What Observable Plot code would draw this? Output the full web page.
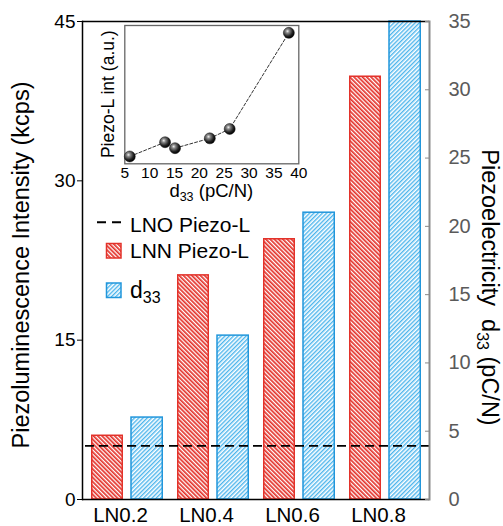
<!DOCTYPE html>
<html><head><meta charset="utf-8">
<script src="https://cdn.jsdelivr.net/npm/d3@7"></script>
<script src="https://cdn.jsdelivr.net/npm/@observablehq/plot@0.6"></script>
<style>
body{margin:0;background:#fff;font-family:"Liberation Sans",Arial,sans-serif;}
#wrap{position:relative;width:503px;height:526px;overflow:hidden;background:#fff;}
#wrap > svg{position:absolute;left:0;top:0;}
</style></head><body><div id="wrap"></div>
<script>
// ---- data ----
const samples = ["LN0.2", "LN0.4", "LN0.6", "LN0.8"];
const lnnPiezoL = [6.0, 21.1, 24.5, 39.8];      // kcps (left axis)
const d33Values = [6, 12, 21, 35];              // pC/N (right axis)
const lnoPiezoL = [5.05];                        // kcps, dashed reference
const leftTicks = [0, 15, 30, 45];
const rightTicks = [0, 5, 10, 15, 20, 25, 30, 35];
const insetD33 = [6.0, 13.1, 15.1, 22.1, 26.1, 38.0];
const insetIntensity = [0.53, 1.56, 1.13, 1.84, 2.52, 9.47];
const insetTicks = [5, 10, 15, 20, 25, 30, 35, 40];
const leftMax = 45, rightMax = 35;
const k = leftMax / rightMax;

const FONT = "Liberation Sans, Arial, sans-serif";
const RED = "#e3322a", BLUE = "#2196db";

const lnnRows = samples.map((s, i) => ({sample: s, value: lnnPiezoL[i]}));
const d33Rows = samples.map((s, i) => ({sample: s, value: d33Values[i]}));

const main = Plot.plot({
  width: 503, height: 526,
  marginLeft: 82, marginRight: 74, marginTop: 21, marginBottom: 27,
  style: {fontFamily: FONT, fontSize: "20px", background: "transparent", overflow: "visible", color: "black"},
  x: {domain: samples, padding: 0},
  y: {domain: [0, leftMax]},
  marks: [
    Plot.barY(lnnRows, {x: "sample", y: "value", fill: "url(#hatchRed)", stroke: RED, strokeWidth: 1.5, insetLeft: 7.75, insetRight: 47.75}),
    Plot.barY(d33Rows, {x: "sample", y: d => d.value * k, fill: "url(#hatchBlue)", stroke: BLUE, strokeWidth: 1.5, insetLeft: 47, insetRight: 7.75}),
    Plot.ruleY(lnoPiezoL, {stroke: "black", strokeWidth: 1.6, strokeDasharray: "9,5", insetLeft: 3, insetRight: -6}),
    Plot.ruleY([0, leftMax], {stroke: "black", strokeWidth: 1.5}),
    Plot.frame({anchor: "left", stroke: "black", strokeWidth: 1.5}),
    Plot.frame({anchor: "right", stroke: "#8a8a8a", strokeWidth: 2}),
    Plot.axisY(leftTicks, {anchor: "left", tickSize: 5, tickPadding: 2, fontSize: 19, label: null, stroke: "black", fill: "black"}),
    Plot.axisY(rightTicks.map(v => v * k), {anchor: "right", tickSize: -5, tickPadding: 24, fontSize: 20, label: null,
      tickFormat: v => Math.round(v / k), stroke: "#8a8a8a", fill: "#5a5a5a"}),
    Plot.axisX({anchor: "bottom", tickSize: 0, tickPadding: 8, fontSize: 20.5, label: null, dx: -7, fill: "black"})
  ]
});

d3.select(main).insert("defs", ":first-child").html(`
  <pattern id="hatchRed" patternUnits="userSpaceOnUse" width="3" height="3" patternTransform="rotate(-45)">
    <rect width="3" height="3" fill="white"/><rect width="1.7" height="3" fill="${RED}"/>
  </pattern>
  <pattern id="hatchBlue" patternUnits="userSpaceOnUse" width="3" height="3" patternTransform="rotate(45)">
    <rect width="3" height="3" fill="white"/><rect width="1.4" height="3" fill="#4db5ec"/>
  </pattern>`);

const insetRows = insetD33.map((d, i) => ({d33: d, intensity: insetIntensity[i]}));
const inset = Plot.plot({
  width: 503, height: 260,
  marginLeft: 124.3, marginRight: 204.7, marginTop: 25, marginBottom: 96.7,
  style: {fontFamily: FONT, fontSize: "16px", background: "transparent", overflow: "visible", color: "black"},
  x: {domain: [5, 40]},
  y: {domain: [0, 10]},
  marks: [
    Plot.frame({stroke: "#666", strokeWidth: 1.3}),
    Plot.line(insetRows, {x: "d33", y: "intensity", stroke: "#333", strokeWidth: 1, strokeDasharray: "3,2"}),
    Plot.dot(insetRows, {x: "d33", y: "intensity", r: 5.5, fill: "url(#ball)", stroke: "#111", strokeWidth: 0.5}),
    Plot.axisX(insetTicks, {anchor: "bottom", tickSize: 0, tickPadding: 3, fontSize: 15.5, label: null, fill: "black"}),
    Plot.axisY({ticks: [], label: null})
  ]
});
d3.select(inset).insert("defs", ":first-child").html(`
  <radialGradient id="ball" cx="38%" cy="35%" r="65%">
    <stop offset="0" stop-color="#f0f0f0"/>
    <stop offset="0.25" stop-color="#8a8a8a"/>
    <stop offset="0.7" stop-color="#222"/>
    <stop offset="1" stop-color="#000"/>
  </radialGradient>`);

const wrap = document.getElementById("wrap");
wrap.appendChild(main);
wrap.appendChild(inset);

// annotation layer: titles, inset labels and legend (text only + legend keys)
const ns = "http://www.w3.org/2000/svg";
const ann = document.createElementNS(ns, "svg");
ann.setAttribute("width", 503); ann.setAttribute("height", 526);
ann.style.fontFamily = FONT;
ann.innerHTML = `
  <text transform="translate(29,265) rotate(-90)" text-anchor="middle" font-size="23.5">Piezoluminescence Intensity (kcps)</text>
  <text transform="translate(481.5,287.5) rotate(90)" text-anchor="middle" font-size="23.5">Piezoelectricity&#160; d<tspan dy="5" font-size="16">33</tspan><tspan dy="-5"> (pC/N)</tspan></text>
  <text transform="translate(114,94.2) rotate(-90)" text-anchor="middle" font-size="17.5">Piezo-L int (a.u.)</text>
  <text x="211.3" y="197" text-anchor="middle" font-size="18.5">d<tspan dy="4" font-size="12.5">33</tspan><tspan dy="-4"> (pC/N)</tspan></text>
  <line x1="97" x2="121" y1="222.3" y2="222.3" stroke="black" stroke-width="2" stroke-dasharray="9,6"/>
  <text x="130" y="232" font-size="21">LNO Piezo-L</text>
  <rect x="106.5" y="243.5" width="14.5" height="14.5" fill="url(#hatchRed)" stroke="${RED}" stroke-width="1.5"/>
  <text x="130" y="258.3" font-size="21">LNN Piezo-L</text>
  <rect x="106.5" y="283" width="14.5" height="14.5" fill="url(#hatchBlue)" stroke="${BLUE}" stroke-width="1.5"/>
  <text x="130" y="297.7" font-size="23">d<tspan dy="5" font-size="16">33</tspan></text>
`;
wrap.appendChild(ann);
</script></body></html>
